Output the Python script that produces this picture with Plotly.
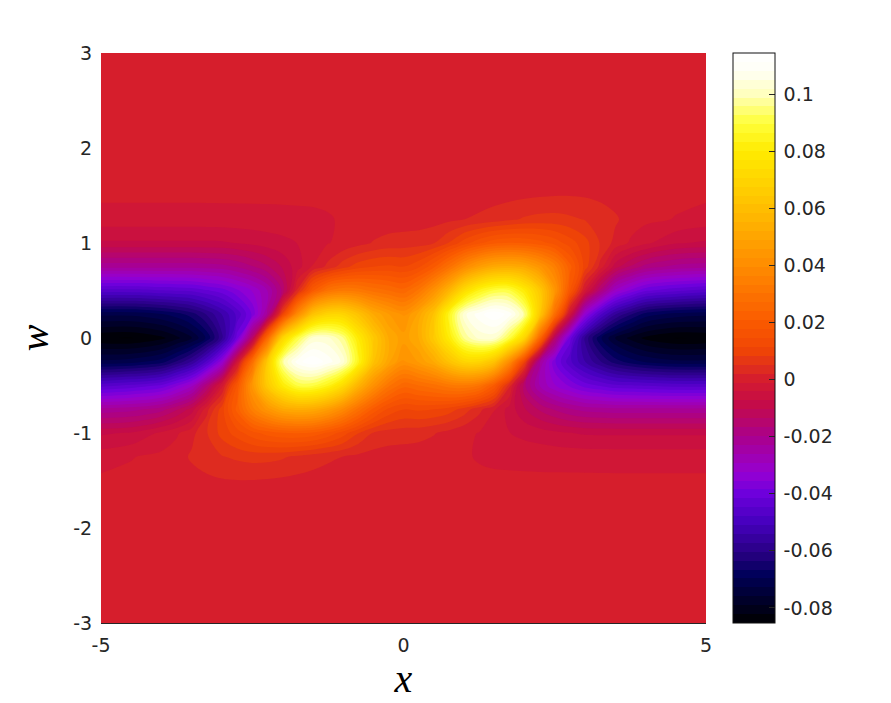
import numpy as np
import plotly.graph_objects as go

x = [-5, -4.5, -4, -3.75, -3.5, -3.25, -3, -2.75, -2.5, -2.25, -2, -1.75, -1.5, -1.25, -1, -0.75, -0.5, -0.25, 0,
     0.25, 0.5, 0.75, 1, 1.25, 1.5, 1.75, 2, 2.25, 2.5, 2.75, 3, 3.25, 3.5, 3.75, 4, 4.5, 5]
w = [3, 2.75, 2.5, 2.25, 2, 1.75, 1.5, 1.25, 1, 0.75, 0.5, 0.25, 0,
     -0.25, -0.5, -0.75, -1, -1.25, -1.5, -1.75, -2, -2.25, -2.5, -2.75, -3]

# values, in thousandths
z_milli = [
    [0]*37,
    [0]*37,
    [0]*37,
    [0]*37,
    [0]*37,
    [-.15, -.15, -.15, -.15, -.15, -.1, -.1, -.1, -.1, -.1, -.1, -.05, -.05, 0, 0, 0, 0, 0, 0,
     0, 0, .05, .1, .15, .2, .3, .4, .45, .5, .45, .4, .25, .1, 0, 0, -.1, -.15],
    [-.4, -.4, -.4, -.4, -.4, -.4, -.4, -.4, -.4, -.35, -.3, -.25, -.25, -.2, -.15, -.1, -.05, 0, .05,
     .15, .2, .3, .5, .7, 1, 1.2, 1.5, 1.8, 2, 2, 1.8, 1.3, .6, .1, -.15, -.35, -.4],
    [-2.5, -2.5, -2.5, -2.5, -2.5, -2.45, -2.4, -2.35, -2.3, -2.3, -2.25, -2.1, -1.9, -1.4, -.6, 0, .1, .3, .5,
     .6, .8, 1.3, 2, 2.6, 3.4, 4.5, 5.6, 6.2, 6.3, 5.8, 5, 4, 2.6, .5, -.3, -1.2, -2.5],
    [-7.8, -7.8, -7.8, -7.8, -7.8, -7.8, -7.7, -7.2, -6.5, -5.7, -5, -4.1, -3, -1.2, -.3, 1, 2.3, 3.2, 3.5,
     3.8, 5, 8.5, 13, 17, 20, 21, 20.5, 19, 16.5, 13, 9.5, 5, 1, -1.5, -3.5, -7, -7.8],
    [-22, -22, -22, -22, -22, -21.5, -21, -19.5, -17, -14, -10, -5.5, -.8, 3, 7, 10, 11.5, 12, 11.5,
     14, 20, 29, 39, 47, 52, 53, 51, 44, 35, 22, 10, 1, -9, -14, -18, -21, -22],
    [-46, -46, -45, -44.5, -44, -42, -40, -36, -32, -26, -16, 3, 20, 30, 33, 32, 29, 27, 25,
     31, 42, 56, 73, 84, 90, 90, 80, 65, 44, 18, -2, -17, -30, -36, -41, -44, -46],
    [-72, -72, -70, -68, -65, -60, -54, -47, -38, -22, 10, 40, 62, 70, 70, 62, 52, 46, 42,
     50, 62, 85, 104, 110, 114, 110, 98, 65, 28, -4, -33, -47, -57, -63, -68, -71, -72],
    [-85, -85.5, -83, -80, -76, -69, -58, -40, -14, 26, 70, 90, 103, 103, 96, 80, 65, 52, 47,
     52, 65, 80, 96, 103, 103, 90, 70, 26, -14, -40, -58, -69, -76, -80, -83, -85.5, -85],
    [-72, -71, -68, -63, -57, -47, -33, -4, 28, 65, 98, 110, 114, 110, 104, 85, 62, 50, 42,
     46, 52, 62, 70, 70, 62, 40, 10, -22, -38, -47, -54, -60, -65, -68, -70, -72, -72],
    [-46, -44, -41, -36, -30, -17, -2, 18, 44, 65, 80, 90, 90, 84, 73, 56, 42, 31, 25,
     27, 29, 32, 33, 30, 20, 3, -16, -26, -32, -36, -40, -42, -44, -44.5, -45, -46, -46],
    [-22, -21, -18, -14, -9, 1, 10, 22, 35, 44, 51, 53, 52, 47, 39, 29, 20, 14, 11.5,
     12, 11.5, 10, 7, 3, -.8, -5.5, -10, -14, -17, -19.5, -21, -21.5, -22, -22, -22, -22, -22],
    [-7.8, -7, -3.5, -1.5, 1, 5, 9.5, 13, 16.5, 19, 20.5, 21, 20, 17, 13, 8.5, 5, 3.8, 3.5,
     3.2, 2.3, 1, -.3, -1.2, -3, -4.1, -5, -5.7, -6.5, -7.2, -7.7, -7.8, -7.8, -7.8, -7.8, -7.8, -7.8],
    [-2.5, -1.2, -.3, .5, 2.6, 4, 5, 5.8, 6.3, 6.2, 5.6, 4.5, 3.4, 2.6, 2, 1.3, .8, .6, .5,
     .3, .1, 0, -.6, -1.4, -1.9, -2.1, -2.25, -2.3, -2.3, -2.35, -2.4, -2.45, -2.5, -2.5, -2.5, -2.5, -2.5],
    [-.4, -.35, -.15, .1, .6, 1.3, 1.8, 2, 2, 1.8, 1.5, 1.2, 1, .7, .5, .3, .2, .15, .1,
     0, -.05, -.1, -.15, -.2, -.25, -.25, -.3, -.35, -.4, -.4, -.4, -.4, -.4, -.4, -.4, -.4, -.4],
    [-.15, -.1, 0, 0, .1, .25, .4, .45, .5, .45, .4, .3, .2, .15, .1, .05, 0, 0, 0,
     0, 0, 0, 0, 0, -.05, -.05, -.1, -.1, -.1, -.1, -.1, -.1, -.15, -.15, -.15, -.15, -.15],
    [0]*37,
    [0]*37,
    [0]*37,
    [0]*37,
    [0]*37,
]

x_ticks = [-5, 0, 5]
w_ticks = [-3, -2, -1, 0, 1, 2, 3]
cbar_ticks = [-0.08, -0.06, -0.04, -0.02, 0, 0.02, 0.04, 0.06, 0.08, 0.1]
cbar_labels = ["-0.08", "-0.06", "-0.04", "-0.02", "0", "0.02", "0.04", "0.06", "0.08", "0.1"]

z_low = -0.0853
z_high = 0.1144
n_levels = 64

cmap_vals = [-0.0853, -0.0683, -0.0607, -0.05, -0.04, -0.0326, -0.02, -0.0095, 0, 0.0105,
             0.02, 0.04, 0.06, 0.08, 0.09, 0.1, 0.108, 0.1144]
cmap_cols = ["#000000", "#00005a", "#280082", "#4600be", "#6e00dc", "#9600d2", "#aa008c", "#c30a4b",
             "#d51c2e", "#f04605", "#fa5a00", "#ff8c00", "#ffbe00", "#ffeb00", "#ffff3c", "#ffffbe",
             "#fffff5", "#ffffff"]
colorscale = [[(v - z_low) / (z_high - z_low), c] for v, c in zip(cmap_vals, cmap_cols)]

text_col = "#262626"
tick_font = dict(family="DejaVu Sans", size=19, color=text_col)
title_font = dict(family="Liberation Serif", size=40, color="#000000")

fig = go.Figure(go.Contour(
    x=x, y=w, z=np.array(z_milli) / 1000,
    colorscale=colorscale, zmin=z_low, zmax=z_high,
    contours=dict(start=z_low, end=z_high, size=(z_high - z_low) / n_levels, coloring="fill", showlines=False),
    line=dict(width=0, smoothing=1.0),
    colorbar=dict(
        x=1.0446, xanchor="left", xpad=0, y=0.5, yanchor="middle", ypad=0, len=1, thickness=42,
        outlinecolor="#111111", outlinewidth=1,
        ticks="inside", ticklen=6, tickcolor=text_col, tickwidth=1,
        tickvals=cbar_ticks, ticktext=["\u2009" + t for t in cbar_labels], tickfont=tick_font,
    ),
))

fig.update_xaxes(
    range=[-5, 5], tickvals=x_ticks, ticktext=[str(t) for t in x_ticks], tickfont=tick_font,
    showgrid=False, zeroline=False, showline=True, linecolor=text_col, linewidth=1,
    ticks="outside", ticklen=5, tickcolor="rgba(0,0,0,0)",
    title=dict(text="<i>x</i>", font=title_font, standoff=6),
)
fig.update_yaxes(
    range=[-3, 3], tickvals=w_ticks, ticktext=[str(t) for t in w_ticks], tickfont=tick_font,
    showgrid=False, zeroline=False, showline=False,
    ticks="outside", ticklen=4, tickcolor="rgba(0,0,0,0)",
    title=dict(text="<i>w</i>", font=title_font, standoff=12),
)
# the page adds 8px of body margin on the top and left
fig.update_layout(
    width=883, height=695, autosize=False,
    margin=dict(l=93, r=185, t=45, b=80),
    paper_bgcolor="#ffffff", plot_bgcolor="#ffffff",
)

fig.write_html("out.html")
